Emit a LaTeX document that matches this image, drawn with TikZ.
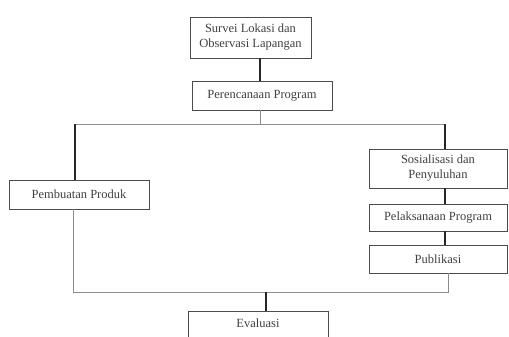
\documentclass[tikz,border=0pt]{standalone}
\usepackage{fontspec}
\setmainfont{Liberation Serif}
\begin{document}
\begin{tikzpicture}[x=1pt, y=-1pt,
    box/.style={draw=black!70, line width=0.9pt, text=black!75, align=center,
      font=\fontsize{12.5}{15}\selectfont, inner sep=0pt},
    thinline/.style={draw=black!45, line width=0.9pt},
    thickline/.style={draw=black!85, line width=2.4pt}]
  \useasboundingbox (0,0) rectangle (509,337);
  % --- boxes ---
  \node[box, minimum width=121, minimum height=41] (survei) at (250.5,37.5) {Survei Lokasi dan\\Observasi Lapangan};
  \node[box, minimum width=140, minimum height=29] (rencana) at (262,95.5) {Perencanaan Program};
  \node[box, minimum width=140, minimum height=29] (produk) at (79,194.5) {Pembuatan Produk};
  \node[box, minimum width=138, minimum height=39] (sosial) at (438,168.5) {Sosialisasi dan\\Penyuluhan};
  \node[box, minimum width=138, minimum height=27] (laksana) at (438,217.5) {Pelaksanaan Program};
  \node[box, minimum width=138, minimum height=28] (publik) at (438,259) {Publikasi};
  % Evaluasi runs past the bottom edge
  \node[box, minimum width=140, minimum height=34, text depth=10pt] (evaluasi) at (258,328) {Evaluasi};
  % --- split after perencanaan ---
  \coordinate (jl) at (75,124);
  \coordinate (jr) at (445,124);
  \coordinate (jm) at (260,124);
  \draw[thickline] (260,0 |- survei.south) -- (260,0 |- rencana.north);
  \draw[thinline] (jm |- rencana.south) -- (jm);
  \draw[thinline] (jl) -- (jr);
  \draw[thickline] (jl) -- (jl |- produk.north);
  \draw[thickline] (jr) -- (jr |- sosial.north);
  % --- right branch ---
  \draw[thickline] (jr |- sosial.south) -- (jr |- laksana.north);
  \draw[thickline] (jr |- laksana.south) -- (jr |- publik.north);
  % --- merge into evaluasi ---
  \coordinate (bl) at (73,292);
  \coordinate (br) at (448,292);
  \coordinate (bm) at (266,292);
  \draw[thinline] (bl |- produk.south) -- (bl) -- (br) -- (br |- publik.south);
  \draw[thickline] (bm) -- (bm |- evaluasi.north);
\end{tikzpicture}
\end{document}
